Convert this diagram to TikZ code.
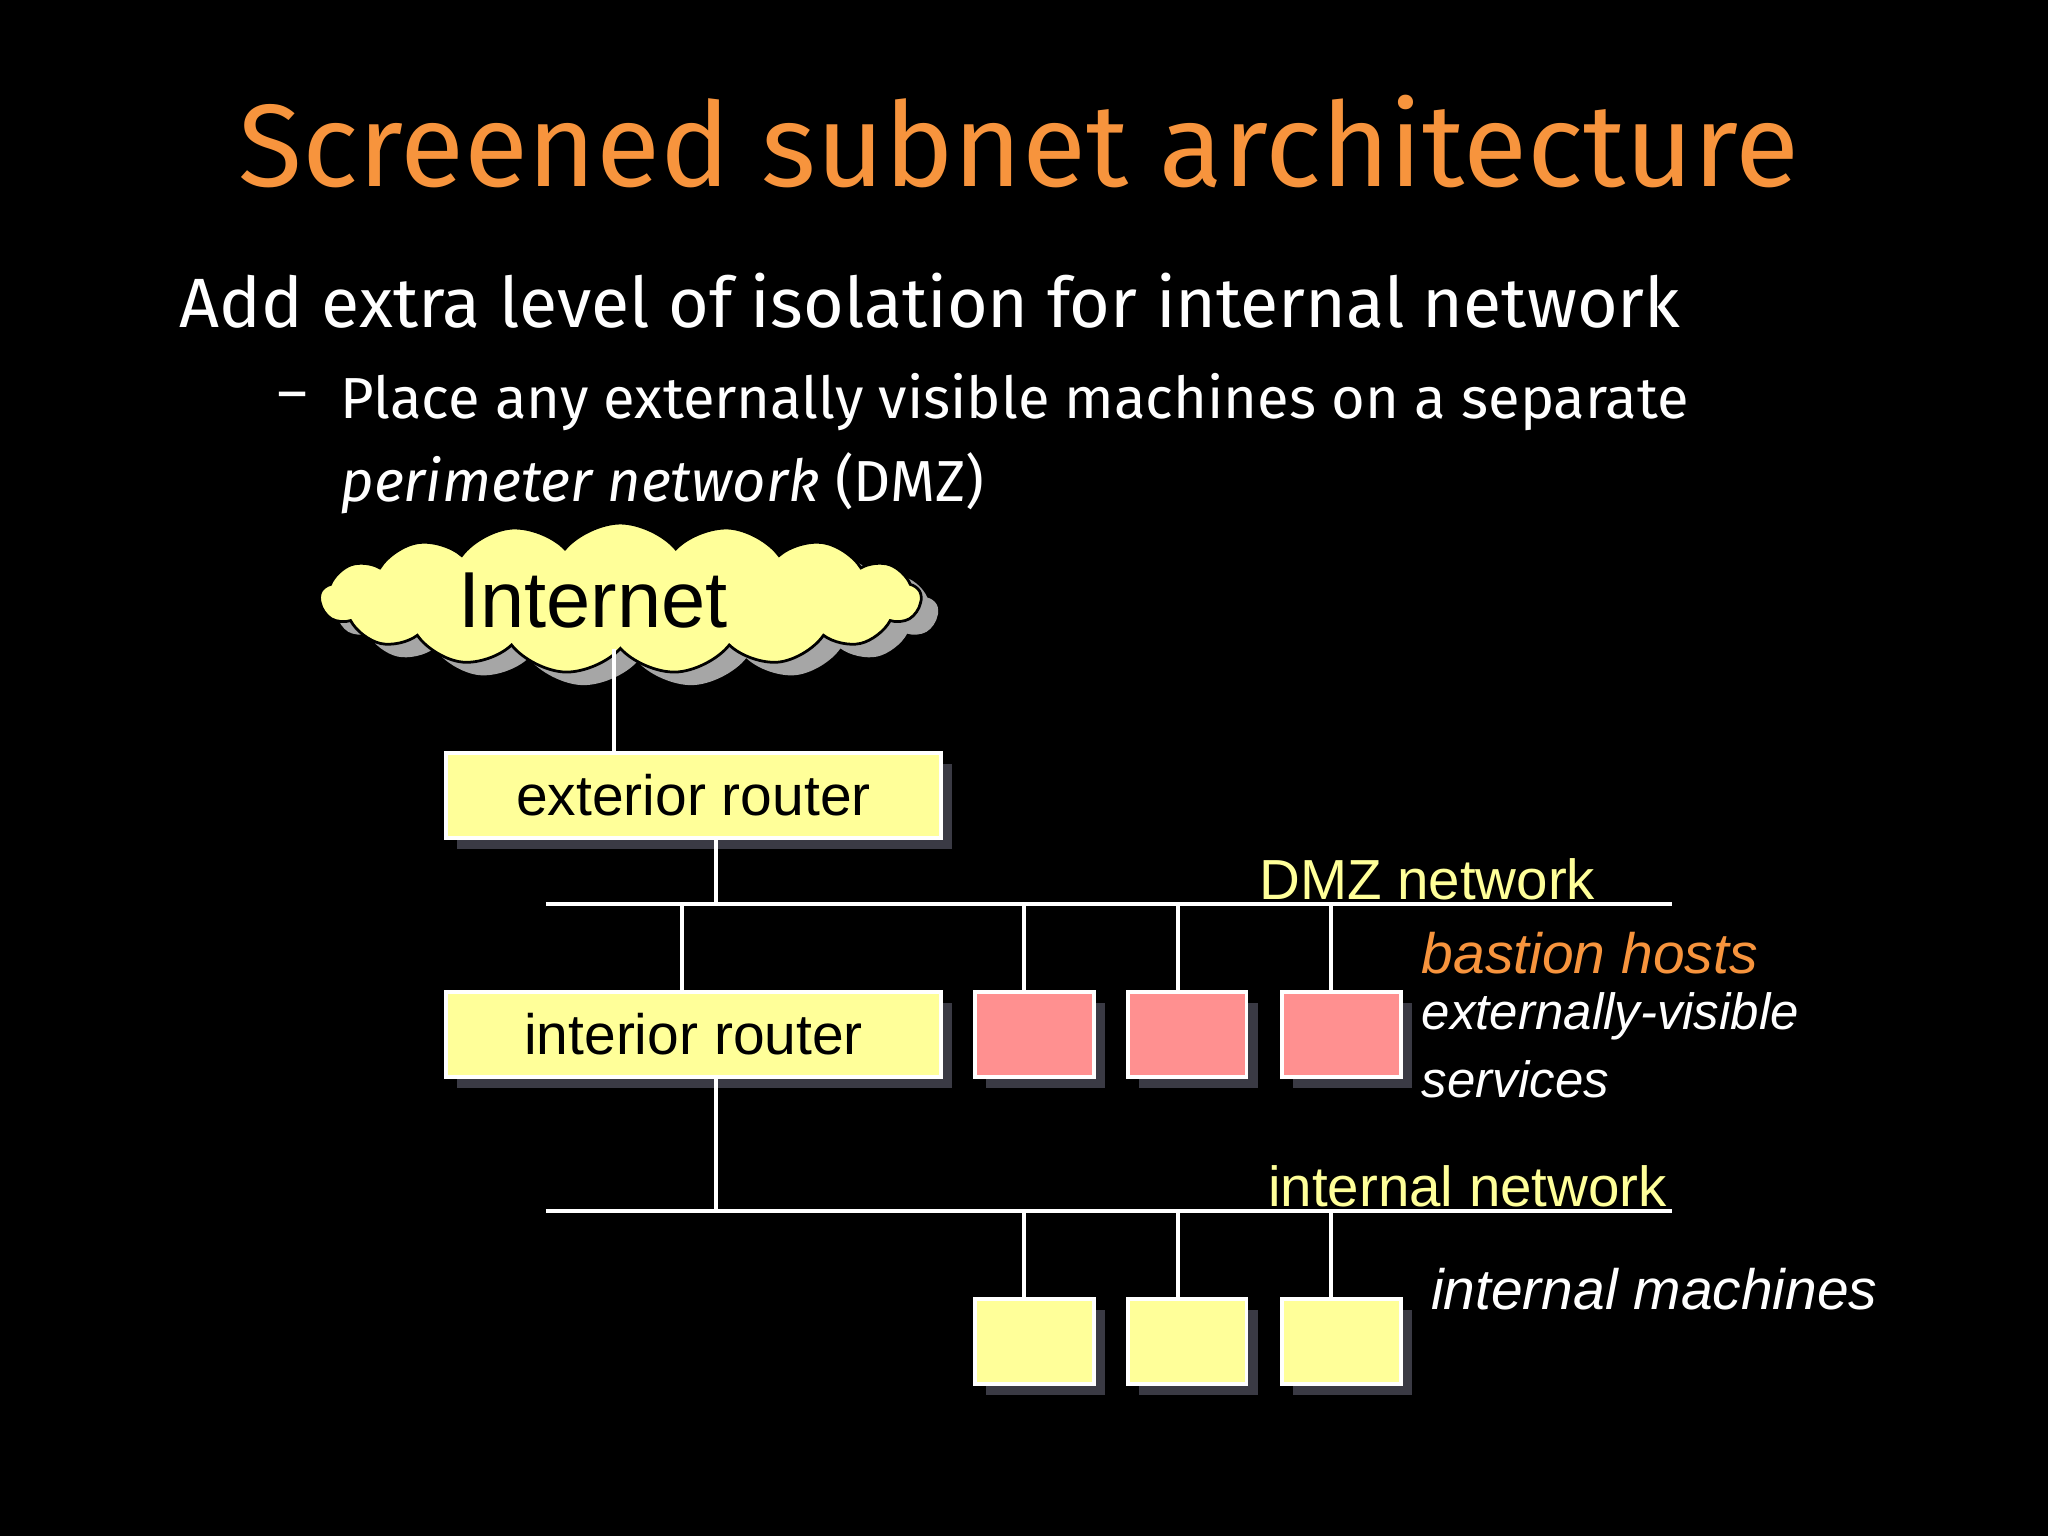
\documentclass[tikz,border=0pt]{standalone}
\usepackage{fontspec}
\setmainfont{Liberation Sans}
\newfontfamily\titlef{Fira Sans}
\usetikzlibrary{shapes.symbols}
\definecolor{orng}{HTML}{F7943D}
\definecolor{lyel}{HTML}{FFFF99}
\definecolor{pnk}{HTML}{FF9090}
\definecolor{shd}{HTML}{3A3A44}
\begin{document}
\begin{tikzpicture}[x=0.01cm,y=-0.01cm,
  box/.style={draw=white,line width=0.8pt,inner sep=0pt,anchor=north west,font=\fontsize{12.4}{14}\selectfont},
  shadow/.style={fill=shd},
  ln/.style={draw=white,line width=0.8pt},
  every node/.append style={inner sep=0pt}]
\fill[black] (0,0) rectangle (1568,1176);
\useasboundingbox (0,0) rectangle (1568,1176);
\node[orng,font=\titlef\fontsize{25.5}{30}\selectfont] (title) at (780,108) {Screened subnet architecture};
\node[white,anchor=west,font=\titlef\fontsize{15.2}{20}\selectfont] (b1) at (137,230) {Add extra level of isolation for internal network};
\node[white,anchor=west,font=\titlef\fontsize{12.6}{18}\selectfont] (dash) at (212,308) {–};
\node[white,anchor=west,font=\titlef\fontsize{12.6}{18}\selectfont] (b2) at (260,308) {Place any externally visible machines on a separate};
\node[white,anchor=west,font=\titlef\fontsize{12.6}{18}\selectfont] (b3) at (260,370) {\textit{perimeter network} (DMZ)};
% cloud
\node[cloud,cloud puffs=17,cloud puff arc=100,aspect=4,fill=gray!70,inner sep=0pt,minimum width=4.6cm,minimum height=1.15cm] (cs) at (488,468) {};
\node[cloud,cloud puffs=17,cloud puff arc=100,aspect=4,fill=lyel,draw=black,line width=0.6pt,inner sep=0pt,minimum width=4.6cm,minimum height=1.15cm] (cloud) at (475,458) {};
\node[font=\fontsize{17.3}{20}\selectfont] (inettxt) at (454,460) {Internet};
% shadows
\foreach \x/\y/\w in {340/575/379,340/758/379,745/758/91,862/758/91,980/758/91,745/993/91,862/993/91,980/993/91}
  \fill[shadow] (\x+10,\y+10) rectangle (\x+\w+10,\y+75);
\node[box,fill=lyel,minimum width=3.79cm,minimum height=0.65cm] (ext) at (340,575) {exterior router};
\node[box,fill=lyel,minimum width=3.79cm,minimum height=0.65cm] (int) at (340,758) {interior router};
\foreach \n/\x in {p1/745,p2/862,p3/980}
  \node[box,fill=pnk,minimum width=0.91cm,minimum height=0.65cm] (\n) at (\x,758) {};
\foreach \n/\x in {m1/745,m2/862,m3/980}
  \node[box,fill=lyel,minimum width=0.91cm,minimum height=0.65cm] (\n) at (\x,993) {};
\coordinate (dl) at (418,692); \coordinate (dr) at (1280,692);
\coordinate (il) at (418,927); \coordinate (ir) at (1280,927);
\draw[ln] (dl) -- (dr);
\draw[ln] (il) -- (ir);
\draw[ln] (470,497) -- (470,575);
\draw[ln] (548,640) -- (548,692);
\draw[ln] (522,692) -- (522,758);
\draw[ln] (548,823) -- (548,927);
\foreach \n/\x in {p1/784,p2/902,p3/1019} \draw[ln] (\x,692) -- (\x,758);
\foreach \n/\x in {m1/784,m2/902,m3/1019} \draw[ln] (\x,927) -- (\x,993);
\node[lyel,anchor=east,font=\fontsize{12.3}{16}\selectfont] (dmz) at (1222,673) {DMZ network};
\node[orng,anchor=west,font=\itshape\fontsize{12.4}{16}\selectfont] (bh) at (1088,730) {bastion hosts};
\node[white,anchor=west,font=\itshape\fontsize{11.1}{15}\selectfont] (ev) at (1088,778) {externally-visible};
\node[white,anchor=west,font=\itshape\fontsize{11.1}{15}\selectfont] (sv) at (1088,826) {services};
\node[lyel,anchor=east,font=\fontsize{12.3}{16}\selectfont] (inet) at (1277,908) {internal network};
\node[white,anchor=west,font=\itshape\fontsize{12.4}{16}\selectfont] (im) at (1095,987) {internal machines};
\end{tikzpicture}
\end{document}
